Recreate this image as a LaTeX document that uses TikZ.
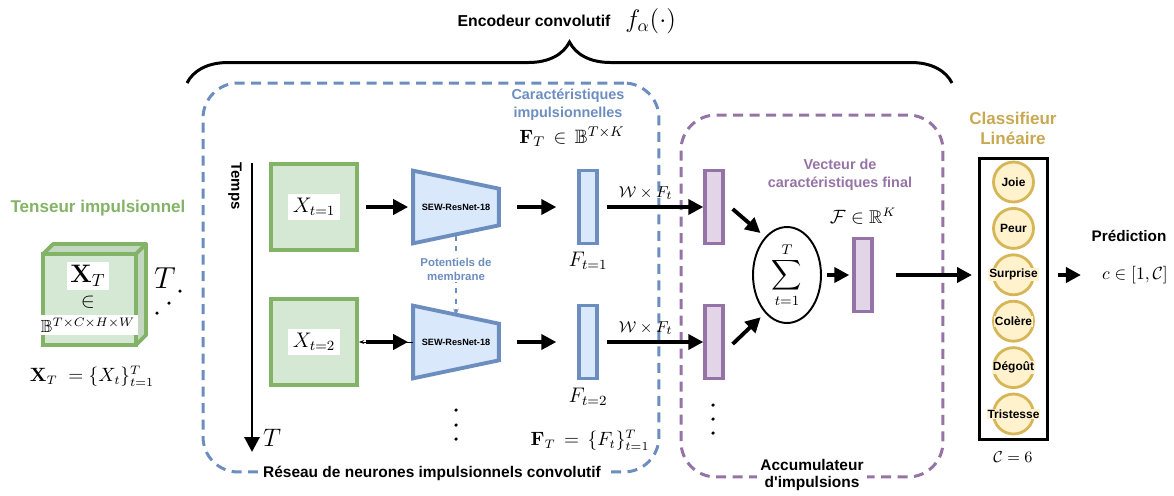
\documentclass[tikz,border=0pt]{standalone}
\usepackage{amsmath}
\usepackage{amssymb}
\usepackage[no-math]{fontspec}
\setmainfont{Liberation Sans}[Ligatures=TeXOff]
\usetikzlibrary{shapes.geometric, arrows.meta, positioning, backgrounds, calc, decorations.pathreplacing}

\definecolor{greenline}{HTML}{82B366}
\definecolor{greenfill}{HTML}{D5E8D4}
\definecolor{greenside}{HTML}{C3D7C1}
\definecolor{blueline}{HTML}{6C8EBF}
\definecolor{bluefill}{HTML}{DAE8FC}
\definecolor{purpleline}{HTML}{9673A6}
\definecolor{purplefill}{HTML}{E1D5E7}
\definecolor{goldline}{HTML}{D6B656}
\definecolor{goldfill}{HTML}{FFF2CC}
\definecolor{goldtext}{HTML}{C8A951}

\begin{document}
\begin{tikzpicture}[x=0.02cm, y=-0.02cm,
    sqbox/.style={rectangle, draw=greenline, fill=greenfill, line width=2.2pt, minimum size=1.72cm},
    mathlbl/.style={fill=white, inner sep=2.5pt, font=\fontsize{12}{14}\selectfont},
    bar/.style={rectangle, draw=#1line, fill=#1fill, line width=2.2pt, minimum width=0.35cm, minimum height=1.46cm, inner sep=0pt},
    enc/.style={minimum width=1.7cm, minimum height=1.44cm, inner sep=0pt, font=\bfseries\fontsize{5.2}{6}\selectfont},
    encshape/.style={draw=blueline, fill=bluefill, line width=2.2pt, line join=miter},
    bigarrow/.style={-{Triangle[length=0.3cm, width=0.3cm]}, line width=2.2pt},
    groupbox/.style={rectangle, draw=#1, dash pattern=on 0.2cm off 0.13cm, line width=1.7pt, rounded corners=0.7cm},
    emo/.style={circle, draw=goldline, fill=goldfill, line width=1.6pt, minimum size=0.8cm, inner sep=0pt},
    emotxt/.style={fill=goldfill, inner sep=0.5pt, font=\bfseries\fontsize{6.8}{8}\selectfont},
    grouplbl/.style={font=\bfseries\fontsize{8.2}{10.2}\selectfont, text=#1, align=center},
]
\useasboundingbox (0,0) rectangle (1174,495);

% Encoder brace
\node[font=\bfseries\fontsize{9}{11}\selectfont] (enctitle) at (534,21) {Encodeur convolutif};
\node[right=0.05cm of enctitle, font=\fontsize{14}{16}\selectfont] (encf) {$f_\alpha(\cdot)$};
\draw[line width=1.7pt, decorate, decoration={brace, amplitude=0.82cm}] (187,83) -- (952,83);

% Group boxes
\node[groupbox=blueline, minimum width=9.12cm, minimum height=7.78cm] (snnbox) at (431,277.5) {};
\node[groupbox=purpleline, minimum width=5.24cm, minimum height=7.24cm] (accbox) at (812,296) {};
\node[fill=white, inner sep=3pt, font=\bfseries\fontsize{8.8}{10}\selectfont] (snnlbl) at (432,473) {Réseau de neurones impulsionnels convolutif};
\node[fill=white, inner sep=2pt, align=center, font=\bfseries\fontsize{8.8}{9.6}\selectfont] (acclbl) at (812,475) {Accumulateur\\d'impulsions};
\node[grouplbl=blueline] (featlbl) at (568,105) {Caractéristiques\\impulsionnelles};
\node[font=\fontsize{11}{13}\selectfont] (featset) at (572,137) {$\mathbf{F}_T \,\in\, \mathbb{B}^{T\times K}$};

% Spike tensor
\node[font=\bfseries\fontsize{9.7}{11}\selectfont, text=greenline] (tenslbl) at (98,208) {Tenseur impulsionnel};
\node[rectangle, draw=greenline, fill=greenfill, line width=2.2pt, minimum width=1.86cm, minimum height=1.82cm, outer sep=0pt] (cube) at (89.5,299.5) {};
\draw[greenline, fill=greenside, line width=2.2pt, line join=round] (cube.north west) -- ++(10,-10) -- ++(93,0) -- (cube.north east) -- cycle;
\draw[greenline, fill=greenside, line width=2.2pt, line join=round] (cube.north east) -- ++(10,-10) -- ++(0,91) -- (cube.south east) -- cycle;
\node[fill=white, inner sep=2pt, font=\fontsize{14}{16}\selectfont] (cubeX) at (88,276) {$\mathbf{X}_T$};
\node[font=\fontsize{12}{14}\selectfont] (cubein) at (88,302) {$\in$};
\node[fill=white, inner sep=1.5pt, font=\fontsize{10}{12}\selectfont] (cubeB) at (88,325) {$\mathbb{B}^{T\times C\times H\times W}$};
\node[font=\fontsize{16}{18}\selectfont] (cubeT) at (165,278) {$T$};
\fill (157,313) circle (1pt) (169,303) circle (1pt) (180,291) circle (1pt);
\node[font=\fontsize{10.5}{12}\selectfont] (xset) at (92,376) {$\mathbf{X}_T\;=\{X_t\}_{t=1}^{T}$};

% Time axis
\node[rotate=-90, font=\bfseries\fontsize{8.5}{10}\selectfont] (temps) at (235,186) {Temps};
\coordinate (ttop) at (252,163);
\coordinate (tbot) at (252,452);
\draw[line width=1.7pt, -{Triangle[length=0.3cm, width=0.3cm]}] (ttop) -- (tbot);
\node[font=\fontsize{14}{16}\selectfont] (tT) at (272,438) {$T$};

% Row t=1
\node[sqbox] (x1) at (314,207) {};
\node[mathlbl] (x1lbl) at (x1) {$X_{t=1}$};
\node[enc] (enc1) at (456,207) {SEW-ResNet-18};
\node[bar=blue] (f1) at (588,207) {};
\node[font=\fontsize{12}{14}\selectfont] (f1lbl) at (588,261) {$F_{t=1}$};
\node[bar=purple] (p1) at (714,207) {};

% Row t=2
\node[sqbox] (x2) at (314,342) {};
\node[mathlbl] (x2lbl) at (x2) {$X_{t=2}$};
\node[enc] (enc2) at (456,342) {SEW-ResNet-18};
\node[bar=blue] (f2) at (588,342) {};
\node[font=\fontsize{12}{14}\selectfont] (f2lbl) at (588,397) {$F_{t=2}$};
\node[bar=purple] (p2) at (714,342) {};
\node[font=\fontsize{10.5}{12}\selectfont] (fset) at (590,440) {$\mathbf{F}_T \,=\, \{F_t\}_{t=1}^{T}$};

\begin{scope}[on background layer]
    \draw[encshape] (enc1.north west) -- ($(enc1.north east)+(0,18)$) -- ($(enc1.south east)+(0,-18)$) -- (enc1.south west) -- cycle;
    \draw[encshape] (enc2.north west) -- ($(enc2.north east)+(0,18)$) -- ($(enc2.south east)+(0,-18)$) -- (enc2.south west) -- cycle;
\end{scope}

\draw[bigarrow, shorten <=0.14cm, shorten >=0.1cm] (x1) -- (enc1);
\draw[line width=0.5pt, -{Stealth[length=3pt]}] (enc2.west) -- (x2.east);
\draw[bigarrow, shorten <=0.14cm, shorten >=0.1cm] (x2) -- (enc2);
\draw[bigarrow, shorten <=0.36cm, shorten >=0.42cm] (enc1) -- (f1);
\draw[bigarrow, shorten <=0.36cm, shorten >=0.42cm] (enc2) -- (f2);
\draw[bigarrow, shorten <=0.16cm] (f1) -- node[above=0.08cm, inner sep=1pt, font=\fontsize{9.5}{11}\selectfont, pos=0.45] {$\mathcal{W}\times F_t$} (p1);
\draw[bigarrow, shorten <=0.16cm] (f2) -- node[above=0.08cm, inner sep=1pt, font=\fontsize{9.5}{11}\selectfont, pos=0.45] {$\mathcal{W}\times F_t$} (p2);

% Membrane potentials
\draw[blueline, line width=0.9pt, dash pattern=on 3pt off 3pt, -{Stealth[length=4pt]}] ($(enc1.south)+(0,-8)$) -- node[pos=0.42, fill=white, inner sep=1pt, text=blueline, align=center, font=\bfseries\fontsize{6.5}{7.9}\selectfont] (potlbl) {Potentiels de\\membrane} ($(enc2.north)+(0,10)$);

\foreach \y in {410,425,439} \fill (456,\y) circle (1pt);
\foreach \y in {405,419,433} \fill (713,\y) circle (1pt);

% Accumulation
\node[ellipse, draw, line width=1.1pt, minimum width=1.36cm, minimum height=1.92cm, inner sep=0pt, font=\fontsize{12}{14}\selectfont] (sum) at (787,275) {$\displaystyle\sum_{t=1}^{T}$};
\node[bar=purple] (pf) at (863,275) {};
\node[grouplbl=purpleline] (veclbl) at (840,175) {Vecteur de\\caractéristiques final};
\node[font=\fontsize{10.5}{12}\selectfont] (vecset) at (863,216) {$\mathcal{F}\in\mathbb{R}^K$};
\draw[bigarrow, shorten >=0.12cm] ($(p1.east)+(8,2)$) -- (sum.120);
\draw[bigarrow, shorten >=0.12cm] ($(p2.east)+(8,2)$) -- (sum.240);
\draw[bigarrow, shorten <=0.1cm, shorten >=0.06cm] (sum) -- (pf);

% Linear classifier
\node[font=\bfseries\fontsize{9.7}{11.3}\selectfont, text=goldtext, align=center] (clflbl) at (1013,128) {Classifieur\\Linéaire};
\node[rectangle, draw, line width=1.7pt, minimum width=1.36cm, minimum height=5.64cm] (clf) at (1013.5,299) {};
\foreach \cls [count=\i] in {Joie, Peur, Surprise, Colère, Dégoût, Tristesse} {
    \node[emo] (c\i) at (1013.5, 135.6+46.4*\i) {};
    \node[emotxt] at (c\i) {\cls};
}
\node[font=\fontsize{9.5}{11}\selectfont] (clfC) at (1013,457) {$\mathcal{C}=6$};
\draw[bigarrow, shorten <=0.44cm, shorten >=0.12cm] (pf.east) -- (pf.east -| clf.west);

% Prediction
\node[font=\bfseries\fontsize{8.7}{10}\selectfont] (predlbl) at (1129,236) {Prédiction};
\node[font=\fontsize{10}{12}\selectfont] (pred) at (1135,275) {$c\in[1,\mathcal{C}]$};
\draw[bigarrow, shorten <=0.18cm, shorten >=0.3cm] (clf.east |- pred) -- (pred);

\end{tikzpicture}
\end{document}
